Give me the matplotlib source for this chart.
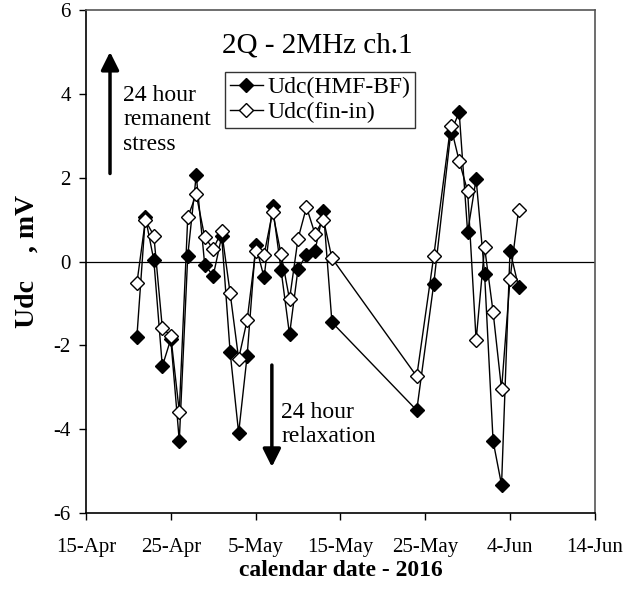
import numpy as np
import pandas as pd
import matplotlib
matplotlib.use('Agg')
import matplotlib.pyplot as plt
import matplotlib.dates as mdates

dates = pd.to_datetime([
    '2016-04-21', '2016-04-22', '2016-04-23', '2016-04-24', '2016-04-25',
    '2016-04-26', '2016-04-27', '2016-04-28', '2016-04-29', '2016-04-30',
    '2016-05-01', '2016-05-02', '2016-05-03', '2016-05-04', '2016-05-05',
    '2016-05-06', '2016-05-07', '2016-05-08', '2016-05-09', '2016-05-10',
    '2016-05-11', '2016-05-12', '2016-05-13', '2016-05-14',
    '2016-05-24', '2016-05-26', '2016-05-28', '2016-05-29', '2016-05-30',
    '2016-05-31', '2016-06-01', '2016-06-02', '2016-06-03', '2016-06-04',
    '2016-06-05'])

udc_hmf_bf = [-1.80, 1.06, 0.03, -2.50, -1.85, -4.28, 0.14, 2.06, -0.08, -0.34,
              0.60, -2.17, -4.09, -2.25, 0.40, -0.38, 1.32, -0.20, -1.74, -0.18,
              0.16, 0.26, 1.20, -1.45,
              -3.55, -0.54, 3.06, 3.57, 0.70, 1.97, -0.30, -4.28, -5.33, 0.26,
              -0.60]

udc_fin_in = [-0.52, 0.98, 0.62, -1.58, -1.78, -3.58, 1.06, 1.60, 0.58, 0.30,
              0.72, -0.76, -2.32, -1.40, 0.24, 0.16, 1.18, 0.18, -0.90, 0.54,
              1.30, 0.66, 1.00, 0.08,
              -2.74, 0.12, 3.24, 2.40, 1.68, -1.88, 0.34, -1.20, -3.05, -0.42,
              1.22]

tick_dates = pd.date_range('2016-04-15', '2016-06-14', freq='10D')

plt.rcParams['font.family'] = ['Liberation Serif', 'DejaVu Serif']
plt.rcParams['axes.unicode_minus'] = False

fig = plt.figure(figsize=(6.29, 5.90), dpi=100)
ax = fig.add_axes([0.1367, 0.1305, 0.809, 0.8525])

ax.axhline(0, color='black', lw=0.9, zorder=1)
ax.plot(dates, udc_hmf_bf, color='black', lw=1.0, marker='D', ms=6.8,
        mfc='black', mec='black', label='Udc(HMF-BF)', zorder=3)
ax.plot(dates, udc_fin_in, color='black', lw=1.0, marker='D', ms=6.8,
        mfc='white', mec='black', mew=1.0, label='Udc(fin-in)', zorder=4)

ax.set_xlim(tick_dates[0], tick_dates[-1])
ax.set_ylim(-6, 6)
ax.set_xticks(tick_dates)
ax.xaxis.set_major_formatter(mdates.DateFormatter('%-d-%b'))
ax.set_yticks(np.arange(-6, 7, 2))
ax.tick_params(direction='out', length=5, width=1, labelsize=15)
ax.tick_params(axis='x', pad=13)
ax.tick_params(axis='y', pad=6)
for s in ax.spines.values():
    s.set_linewidth(1.2)
ax.spines['top'].set_color('#555555')
ax.spines['right'].set_color('#555555')

ax.set_xlabel('calendar date - 2016', fontsize=17, fontweight='bold', labelpad=2)
ax.set_ylabel('Udc    , mV', fontsize=20, fontweight='bold', labelpad=10)

ax.text(0.454, 0.930, '2Q - 2MHz ch.1', transform=ax.transAxes, fontsize=21,
        ha='center', va='center')

leg = ax.legend(loc='upper left', bbox_to_anchor=(0.273, 0.877), fontsize=17,
                frameon=True, fancybox=False, edgecolor='black',
                handlelength=1.4, handletextpad=0.2, borderpad=0.2,
                labelspacing=0.15, borderaxespad=0)
leg.get_frame().set_linewidth(1.0)

arrow_style = dict(arrowstyle='-|>,head_length=0.6,head_width=0.3',
                   color='black', lw=2.5, mutation_scale=18,
                   shrinkA=0, shrinkB=0)

ax.annotate('', xy=(pd.Timestamp('2016-04-17T20'), 5.0),
            xytext=(pd.Timestamp('2016-04-17T20'), 2.1),
            arrowprops=arrow_style)
ax.text(pd.Timestamp('2016-04-19T09'), 3.38, '24 hour\nremanent\nstress',
        fontsize=17, ha='left', va='center', linespacing=1.2)

ax.annotate('', xy=(pd.Timestamp('2016-05-06T22'), -4.9),
            xytext=(pd.Timestamp('2016-05-06T22'), -2.47),
            arrowprops=arrow_style)
ax.text(pd.Timestamp('2016-05-08'), -3.88, '24 hour\nrelaxation',
        fontsize=17, ha='left', va='center', linespacing=1.2)

fig.savefig('out.png', dpi=100)
